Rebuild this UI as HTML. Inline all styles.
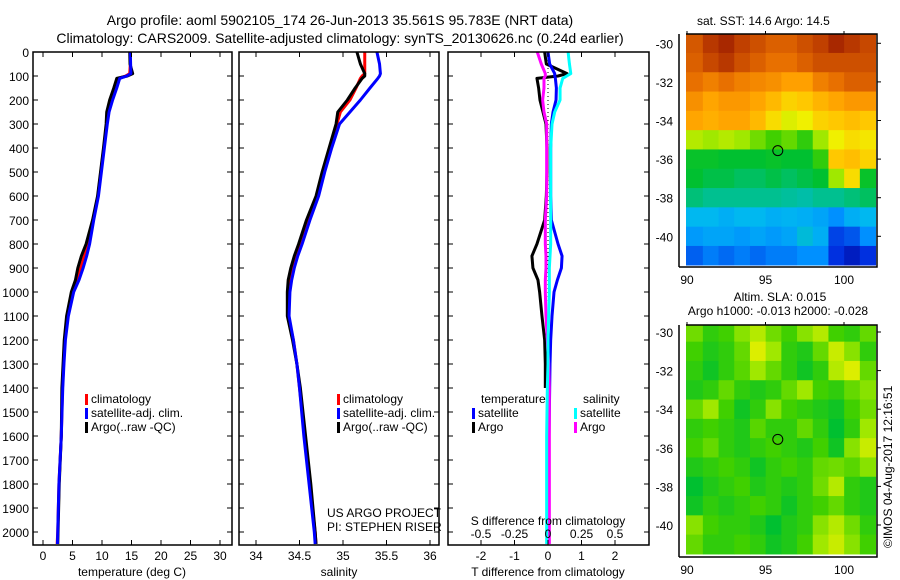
<!DOCTYPE html>
<html><head><meta charset="utf-8">
<style>
html,body{margin:0;padding:0;background:#fff;}
svg{display:block;font-family:"Liberation Sans",sans-serif;}
text{fill:#000;}
</style></head>
<body>
<svg id="fig" width="900" height="580" viewBox="0 0 900 580" xmlns="http://www.w3.org/2000/svg">
<text x="340" y="25" font-size="14" text-anchor="middle">Argo profile: aoml 5902105_174 26-Jun-2013 35.561S 95.783E (NRT data)</text>
<text x="340" y="43" font-size="14" text-anchor="middle">Climatology: CARS2009. Satellite-adjusted climatology: synTS_20130626.nc (0.24d earlier)</text>
<g id="p1"></g>
<g id="p2"></g>
<g id="p3"></g>
<g id="m1"></g>
<g id="m2"></g>
<text x="697" y="25" font-size="12">sat. SST: 14.6 Argo: 14.5</text>
<text x="780" y="301" font-size="12" text-anchor="middle">Altim. SLA: 0.015</text>
<text x="778" y="315" font-size="12" text-anchor="middle">Argo h1000: -0.013 h2000: -0.028</text>
<text transform="translate(892,548) rotate(-90)" font-size="12">©IMOS 04-Aug-2017 12:16:51</text>
<text x="327" y="517" font-size="12">US ARGO PROJECT</text>
<text x="327" y="531" font-size="12">PI: STEPHEN RISER</text>
</svg>
<script>
// ---- profile data ----
const depths=[0,50,90,100,110,150,200,250,300,400,500,600,700,800,850,900,950,1000,1100,1200,1300,1400,1600,1800,2000,2050];
const tempClim=[14.8,14.8,14.7,14.0,12.8,12.3,11.6,11.0,10.8,10.3,9.8,9.3,8.5,7.6,7.0,6.4,5.8,5.0,4.2,3.7,3.5,3.3,3.1,2.7,2.5,2.4];
const tempSat=[14.8,14.85,14.9,14.2,13.0,12.5,11.8,11.2,10.9,10.4,9.9,9.4,8.6,7.9,7.4,6.8,6.1,5.2,4.3,3.8,3.55,3.35,3.1,2.7,2.5,2.45];
const tempArgo=[14.7,14.75,15.2,14.3,12.5,12.0,11.3,10.8,10.7,10.25,9.75,9.25,8.4,7.3,6.5,5.9,5.5,4.8,4.0,3.6,3.4,3.2,3.1,2.75,2.55,2.5];
const salClim=[35.25,35.25,35.25,35.22,35.2,35.15,35.08,34.97,34.93,34.85,34.77,34.7,34.6,34.51,34.46,34.42,34.39,34.38,34.37,34.43,34.47,34.5,34.56,34.62,34.68,34.69];
const salSat=[35.39,35.42,35.43,35.42,35.4,35.31,35.2,35.08,34.96,34.87,34.79,34.72,34.62,34.53,34.48,34.44,34.41,34.39,34.38,34.43,34.47,34.5,34.55,34.61,34.67,34.68];
const salArgo=[35.16,35.2,35.25,35.25,35.22,35.14,35.05,34.94,34.92,34.84,34.76,34.69,34.58,34.49,34.44,34.4,34.37,34.36,34.36,34.42,34.47,34.51,34.57,34.63,34.68,34.69];
const tDiffSat=[0,0.05,0.2,0.2,0.22,0.25,0.24,0.15,0.1,0.08,0.08,0.08,0.1,0.3,0.42,0.4,0.28,0.18,0.12,0.08,0.06,0.05,0.03,0.02,0.02,0.02];
const tDiffArgo=[-0.1,-0.05,0.57,0.3,-0.33,-0.28,-0.24,-0.15,-0.06,-0.03,-0.03,-0.05,-0.1,-0.33,-0.48,-0.45,-0.3,-0.25,-0.18,-0.1,-0.08,-0.08,null,null,null,null];
const sDiffSat=[0.15,0.16,0.17,0.14,0.11,0.09,0.09,0.05,0.03,0.02,0.02,0.02,0.02,0.02,0.015,0.01,0.01,0.01,0.005,0,0,-0.005,-0.01,-0.01,-0.01,-0.01];
const sDiffArgo=[-0.08,-0.05,-0.02,-0.02,-0.03,-0.03,-0.04,-0.03,-0.01,-0.01,-0.01,-0.01,-0.02,-0.02,-0.015,-0.015,-0.02,-0.02,-0.015,-0.005,0.005,0.01,0.01,0.01,0.01,0.01];
const depthTicks=[0,100,200,300,400,500,600,700,800,900,1000,1100,1200,1300,1400,1500,1600,1700,1800,1900,2000];
const tempTicks=[0,5,10,15,20,25,30];
const salTicks=[34,34.5,35,35.5,36];
const salTickLabels=["34","34.5","35","35.5","36"];
const tDiffTicks=[-2,-1,0,1,2];
const sDiffTicks=[-0.5,-0.25,0,0.25,0.5];
const sDiffTickLabels=["-0.5","-0.25","0","0.25","0.5"];
// ---- map data (rows lat -30..-41, cols lon 90..101) ----
const mapLats=[-30,-31,-32,-33,-34,-35,-36,-37,-38,-39,-40,-41];
const mapLons=[90,91,92,93,94,95,96,97,98,99,100,101];
const sstGrid=[
[0.93,0.97,0.99,0.96,0.94,0.92,0.92,0.94,0.96,0.99,0.97,0.95],
[0.92,0.95,0.97,0.94,0.92,0.9,0.9,0.92,0.94,0.94,0.94,0.94],
[0.9,0.88,0.9,0.88,0.87,0.86,0.84,0.84,0.88,0.9,0.92,0.92],
[0.86,0.83,0.85,0.85,0.83,0.79,0.74,0.76,0.8,0.83,0.85,0.85],
[0.83,0.81,0.83,0.83,0.79,0.72,0.66,0.68,0.74,0.76,0.78,0.76],
[0.62,0.6,0.62,0.6,0.56,0.52,0.55,0.5,0.6,0.68,0.72,0.7],
[0.45,0.45,0.44,0.44,0.44,0.45,0.44,0.44,0.5,0.76,0.78,0.74],
[0.44,0.42,0.42,0.4,0.4,0.42,0.4,0.42,0.44,0.6,0.72,0.45],
[0.38,0.36,0.36,0.36,0.36,0.36,0.35,0.34,0.36,0.36,0.38,0.4],
[0.28,0.28,0.26,0.28,0.28,0.26,0.27,0.26,0.24,0.2,0.26,0.28],
[0.22,0.24,0.24,0.22,0.24,0.22,0.24,0.3,0.26,0.12,0.14,0.2],
[0.15,0.18,0.16,0.18,0.16,0.18,0.18,0.2,0.2,0.1,0.06,0.1]];
const slaGrid=[
[0.56,0.5,0.52,0.58,0.62,0.56,0.52,0.58,0.62,0.52,0.5,0.55],
[0.52,0.48,0.5,0.55,0.66,0.6,0.5,0.48,0.55,0.64,0.58,0.5],
[0.5,0.46,0.5,0.54,0.6,0.55,0.5,0.46,0.5,0.62,0.66,0.55],
[0.48,0.5,0.55,0.5,0.48,0.5,0.55,0.6,0.52,0.5,0.55,0.58],
[0.55,0.6,0.52,0.46,0.5,0.58,0.52,0.5,0.48,0.46,0.52,0.56],
[0.5,0.52,0.5,0.48,0.54,0.5,0.5,0.55,0.5,0.44,0.5,0.6],
[0.52,0.55,0.5,0.48,0.5,0.52,0.5,0.48,0.52,0.46,0.58,0.64],
[0.48,0.5,0.52,0.5,0.46,0.5,0.52,0.5,0.55,0.56,0.54,0.58],
[0.44,0.48,0.5,0.52,0.48,0.5,0.48,0.5,0.56,0.62,0.5,0.48],
[0.46,0.5,0.48,0.5,0.52,0.5,0.46,0.5,0.52,0.55,0.5,0.48],
[0.58,0.52,0.5,0.5,0.48,0.44,0.48,0.5,0.58,0.62,0.56,0.5],
[0.55,0.5,0.5,0.52,0.5,0.46,0.48,0.52,0.6,0.64,0.58,0.52]];
const latTicks=[-30,-32,-34,-36,-38,-40];
const lonTicks=[90,95,100];
const argoLon=95.783, argoLat=-35.561;

const NS="http://www.w3.org/2000/svg";
function mk(tag,attrs,parent){const e=document.createElementNS(NS,tag);for(const k in attrs)e.setAttribute(k,attrs[k]);parent.appendChild(e);return e;}
function txt(parent,x,y,s,anchor,size){const t=mk('text',{x:x,y:y,'font-size':size||12,'text-anchor':anchor||'middle'},parent);t.textContent=s;return t;}

const plotTop=52,plotBottom=545;
const yD=d=>plotTop+d*0.24;
function lin(d0,d1,r0,r1){return v=>r0+(v-d0)*(r1-r0)/(d1-d0);}

function frame(g,x0,x1){
  const r=mk('rect',{x:x0,y:plotTop,width:x1-x0,height:plotBottom-plotTop,fill:'none',stroke:'#000','stroke-width':1.5},g);
  
  
}
function yTicks(g,x0,x1,labels){
  depthTicks.forEach(d=>{
    const y=yD(d);
    const a=mk('line',{x1:x0,x2:x0+5,y1:y,y2:y,stroke:'#000'},g);
    
    
    mk('line',{x1:x1,x2:x1-5,y1:y,y2:y,stroke:'#000'},g);
    if(labels){const t=txt(g,x0-4,y+5,String(d),'end',12);
      
      }
  });
}
function xTicks(g,vals,labs,sx,ly){
  vals.forEach((v,i)=>{
    const x=sx(v);
    const a=mk('line',{x1:x,x2:x,y1:plotBottom,y2:plotBottom-5,stroke:'#000'},g);
    
    
    mk('line',{x1:x,x2:x,y1:plotTop,y2:plotTop+5,stroke:'#000'},g);
    if(ly){const t=txt(g,x,ly,labs[i],'middle',12);
      
      }
  });
}
function profLine(g,vals,sx,color,name){
  let pts=[];const segs=[];
  depths.forEach((d,i)=>{const v=vals[i];if(v===null){if(pts.length)segs.push(pts);pts=[];return;}
    pts.push(sx(v)+','+yD(d));});
  if(pts.length)segs.push(pts);
  segs.forEach(s=>{const p=mk('polyline',{points:s.join(' '),fill:'none',stroke:color,'stroke-width':3,'stroke-linejoin':'round'},g);
    
    });
}
function legendEntry(g,x,y,color,label){
  const r=mk('rect',{x:x,y:y-9,width:3,height:11,fill:color},g);
  
  
  const t=txt(g,x+6,y,label,'start',12);
  
  
}

// Panel 1 temperature
(function(){
  const g=document.getElementById('p1');const x0=33,x1=232;
  const sx=lin(0,30,43,220);
  profLine(g,tempClim,sx,'#ff0000','climatology-temp-line');
  profLine(g,tempArgo,sx,'#000000','argo-temp-line');
  profLine(g,tempSat,sx,'#0000ff','satellite-temp-line');
  frame(g,x0,x1);yTicks(g,x0,x1,true);
  xTicks(g,tempTicks,tempTicks.map(String),sx,560);
  const t=txt(g,132,576,'temperature (deg C)','middle',12);
  
  legendEntry(g,85,403,'#ff0000','climatology');
  legendEntry(g,85,417,'#0000ff','satellite-adj. clim.');
  legendEntry(g,85,431,'#000000','Argo(..raw -QC)');
})();
// Panel 2 salinity
(function(){
  const g=document.getElementById('p2');const x0=239,x1=439;
  const sx=lin(34,36,256,430);
  profLine(g,salClim,sx,'#ff0000','climatology-salinity-line');
  profLine(g,salArgo,sx,'#000000','argo-salinity-line');
  profLine(g,salSat,sx,'#0000ff','satellite-salinity-line');
  frame(g,x0,x1);yTicks(g,x0,x1,false);
  xTicks(g,salTicks,salTickLabels,sx,560);
  const t=txt(g,339,576,'salinity','middle',12);
  
  legendEntry(g,337,403,'#ff0000','climatology');
  legendEntry(g,337,417,'#0000ff','satellite-adj. clim.');
  legendEntry(g,337,431,'#000000','Argo(..raw -QC)');
})();
// Panel 3 differences
(function(){
  const g=document.getElementById('p3');const x0=448,x1=649;
  const sT=lin(0,2,548,615), sS=lin(0,0.5,548,615);
  const z=mk('line',{x1:548,x2:548,y1:plotTop,y2:yD(1400),stroke:'#000','stroke-dasharray':'1,3'},g);
  
  profLine(g,tDiffArgo,sT,'#000000','argo-temp-diff-line');
  profLine(g,tDiffSat,sT,'#0000ff','satellite-temp-diff-line');
  profLine(g,sDiffArgo,sS,'#ff00ff','argo-salinity-diff-line');
  profLine(g,sDiffSat,sS,'#00ffff','satellite-salinity-diff-line');
  frame(g,x0,x1);yTicks(g,x0,x1,false);
  xTicks(g,tDiffTicks,tDiffTicks.map(String),sT,560);
  sDiffTicks.forEach((v,i)=>{const t=txt(g,sS(v),538,sDiffTickLabels[i],'middle',12);
    });
  let t=txt(g,548,525,'S difference from climatology','middle',12);
  
  t=txt(g,548,576,'T difference from climatology','middle',12);
  
  t=txt(g,481,403,'temperature','start',12);
  
  t=txt(g,583,403,'salinity','start',12);
  
  legendEntry(g,472,417,'#0000ff','satellite');
  legendEntry(g,472,431,'#000000','Argo');
  legendEntry(g,574,417,'#00ffff','satellite');
  legendEntry(g,574,431,'#ff00ff','Argo');
})();

// colormap
const cmap=[[0,[0,0,144]],[0.1,[0,48,224]],[0.2,[0,144,255]],[0.28,[0,184,240]],[0.36,[0,192,144]],[0.44,[0,192,48]],[0.52,[64,208,0]],[0.6,[160,232,0]],[0.68,[240,240,0]],[0.76,[255,200,0]],[0.84,[255,160,0]],[0.9,[232,112,0]],[0.96,[192,64,0]],[1,[160,32,0]]];
function col(v){v=Math.max(0,Math.min(1,v));for(let i=1;i<cmap.length;i++){if(v<=cmap[i][0]){const a=cmap[i-1],b=cmap[i];const f=(v-a[0])/(b[0]-a[0]);
  const c=a[1].map((x,k)=>Math.round(x+(b[1][k]-x)*f));return 'rgb('+c.join(',')+')';}}return 'rgb(160,32,0)';}

function drawMap(id,grid,fy0,fy1,lat30y,cellName){
  const g=document.getElementById(id);
  const fx0=679,fx1=877,dx0=686;
  const sx=lin(90,100,687,844), sy=lin(-30,-40,lat30y,lat30y+193);
  grid.forEach((row,i)=>row.forEach((v,j)=>{
    const lat=mapLats[i],lon=mapLons[j];
    let y0=sy(lat+0.5),y1=sy(lat-0.5);y0=Math.max(y0,fy0);y1=Math.min(y1,fy1-2);
    let xa=Math.max(sx(lon-0.5)+8,dx0),xb=Math.min(sx(lon+0.5)+8,fx1);
    if(j===0)xa=dx0;
    const r=mk('rect',{x:xa,y:y0,width:xb-xa+0.5,height:y1-y0+0.5,fill:col(v)},g);
    
    
  }));
  const f=mk('polyline',{points:`${fx0},${fy1} ${fx1},${fy1} ${fx1},${fy0} ${dx0},${fy0}`,fill:'none',stroke:'#000','stroke-width':1.5},g);
  
  const b=mk('line',{x1:fx0,x2:fx0,y1:fy0,y2:fy1,stroke:'#000','stroke-width':1.5},g);
  
  latTicks.forEach(l=>{const y=sy(l);
    mk('line',{x1:fx1,x2:fx1+4,y1:y,y2:y,stroke:'#000'},g);
    const t=txt(g,fx0-6,y+5,String(l),'end',12);
    });
  lonTicks.forEach(l=>{const x=sx(l);
    mk('line',{x1:x,x2:x,y1:fy0,y2:fy0-3,stroke:'#000'},g);
    const t=txt(g,x,fy1+17,String(l),'middle',12);
    });
  const c=mk('circle',{cx:sx(argoLon),cy:sy(argoLat),r:5,fill:'none',stroke:'#000','stroke-width':1},g);
  
}
drawMap('m1',sstGrid,34,267,43.3,'sst-cell');
drawMap('m2',slaGrid,325,557,332,'sla-cell');
</script>
</body></html>
